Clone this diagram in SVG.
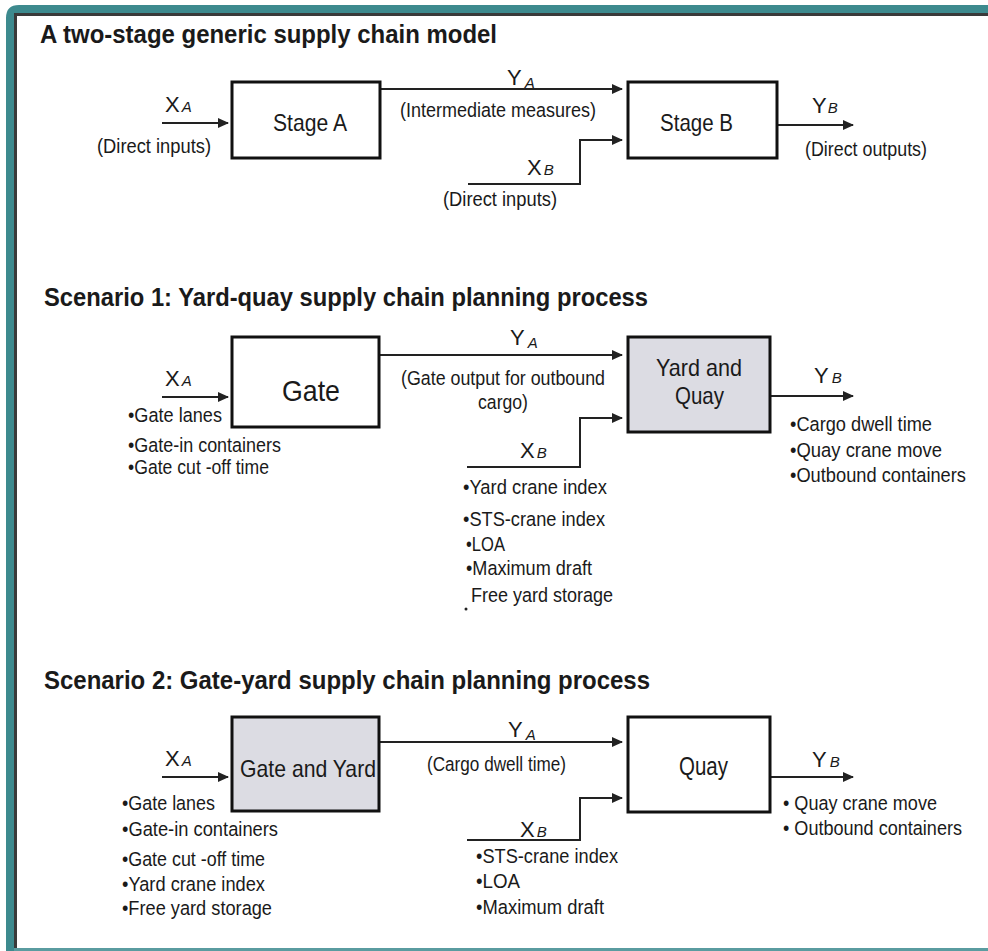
<svg xmlns="http://www.w3.org/2000/svg" width="988" height="951" viewBox="0 0 988 951">
<style>
text{font-family:"Liberation Sans Narrow","Liberation Sans",Arial,sans-serif;fill:#1a1a1a}
.title{font-weight:bold;font-size:25px}
.t{font-size:20.5px}
.nd{font-size:24px}
.v{font-size:22px}
.sub{font-size:15px;font-style:italic}
.box{fill:#fff;stroke:#111;stroke-width:3}
.gbox{fill:#dcdce3;stroke:#111;stroke-width:3}
.ln{fill:none;stroke:#222;stroke-width:2}
</style>
<defs>
<marker id="ah" markerUnits="userSpaceOnUse" markerWidth="11" markerHeight="10" refX="10" refY="5" orient="auto">
<path d="M0,0 L11,5 L0,10 z" fill="#222"/>
</marker>
</defs>
<rect width="988" height="951" fill="#fff"/>
<g id="frame">
<path d="M6,951 V18 Q6,5 19,5 H988 V13 H14 V951 z" fill="#3d8a8e"/>
<rect x="14" y="13" width="974" height="3" fill="#3a3a3a"/>
<rect x="14" y="13" width="3" height="938" fill="#3a3a3a"/>
<rect x="14" y="948" width="974" height="3" fill="#5a9ca0"/>
</g>
<g id="titles">
<text class="title" x="40" y="43" textLength="457" lengthAdjust="spacingAndGlyphs">A two-stage generic supply chain model</text>
<text class="title" x="44" y="306" textLength="604" lengthAdjust="spacingAndGlyphs">Scenario 1: Yard-quay supply chain planning process</text>
<text class="title" x="44" y="689" textLength="606" lengthAdjust="spacingAndGlyphs">Scenario 2: Gate-yard supply chain planning process</text>
</g>
<g id="connectors">
<line class="ln" x1="162" y1="123" x2="228" y2="123" marker-end="url(#ah)"/>
<line class="ln" x1="380" y1="89" x2="622" y2="89" marker-end="url(#ah)"/>
<polyline class="ln" points="468,184 580,184 580,140 622,140" marker-end="url(#ah)"/>
<line class="ln" x1="777" y1="125" x2="853" y2="125" marker-end="url(#ah)"/>
<line class="ln" x1="162" y1="397" x2="228" y2="397" marker-end="url(#ah)"/>
<line class="ln" x1="379" y1="355" x2="622" y2="355" marker-end="url(#ah)"/>
<polyline class="ln" points="467,467 580,467 580,418 622,418" marker-end="url(#ah)"/>
<line class="ln" x1="770" y1="396" x2="853" y2="396" marker-end="url(#ah)"/>
<line class="ln" x1="162" y1="777" x2="228" y2="777" marker-end="url(#ah)"/>
<line class="ln" x1="379" y1="742" x2="622" y2="742" marker-end="url(#ah)"/>
<polyline class="ln" points="467,840 580,840 580,798 622,798" marker-end="url(#ah)"/>
<line class="ln" x1="770" y1="777" x2="853" y2="777" marker-end="url(#ah)"/>
</g>
<g id="stageA">
<rect class="box" x="232" y="82" width="148" height="76"/>
<text class="nd" x="273" y="131" textLength="74" lengthAdjust="spacingAndGlyphs">Stage A</text>
</g>
<g id="stageB">
<rect class="box" x="628" y="82" width="149" height="76"/>
<text class="nd" x="660" y="131" textLength="73" lengthAdjust="spacingAndGlyphs">Stage B</text>
</g>
<g id="labels0">
<text class="v" x="165" y="112">X<tspan class="sub" dx="2">A</tspan></text>
<text class="t" x="97" y="153" textLength="114" lengthAdjust="spacingAndGlyphs">(Direct inputs)</text>
<text class="v" x="507" y="85">Y<tspan class="sub" dx="3" dy="3">A</tspan></text>
<text class="t" x="400" y="117" textLength="196" lengthAdjust="spacingAndGlyphs">(Intermediate measures)</text>
<text class="v" x="527" y="175">X<tspan class="sub" dx="2">B</tspan></text>
<text class="t" x="443" y="206" textLength="114" lengthAdjust="spacingAndGlyphs">(Direct inputs)</text>
<text class="v" x="812" y="113">Y<tspan class="sub" dx="1">B</tspan></text>
<text class="t" x="805" y="156" textLength="122" lengthAdjust="spacingAndGlyphs">(Direct outputs)</text>
</g>
<g id="gate">
<rect class="box" x="232" y="337" width="147" height="90"/>
<text x="282" y="401" font-size="30" textLength="58" lengthAdjust="spacingAndGlyphs">Gate</text>
</g>
<g id="yardQuay">
<rect class="gbox" x="628" y="337" width="142" height="95"/>
<text class="nd" x="656" y="376" textLength="86" lengthAdjust="spacingAndGlyphs">Yard and</text>
<text class="nd" x="675" y="404" textLength="49" lengthAdjust="spacingAndGlyphs">Quay</text>
</g>
<g id="labels1">
<text class="v" x="165" y="386">X<tspan class="sub" dx="2">A</tspan></text>
<text class="t" x="128" y="422" textLength="94" lengthAdjust="spacingAndGlyphs">•Gate lanes</text>
<text class="t" x="128" y="452" textLength="153" lengthAdjust="spacingAndGlyphs">•Gate-in containers</text>
<text class="t" x="128" y="474" textLength="141" lengthAdjust="spacingAndGlyphs">•Gate cut -off time</text>
<text class="v" x="510" y="345">Y<tspan class="sub" dx="3" dy="3">A</tspan></text>
<text class="t" x="401" y="385" textLength="204" lengthAdjust="spacingAndGlyphs">(Gate output for outbound</text>
<text class="t" x="478" y="409" textLength="50" lengthAdjust="spacingAndGlyphs">cargo)</text>
<text class="v" x="520" y="458">X<tspan class="sub" dx="2">B</tspan></text>
<text class="t" x="463" y="494" textLength="144" lengthAdjust="spacingAndGlyphs">•Yard crane index</text>
<text class="t" x="463" y="526" textLength="142" lengthAdjust="spacingAndGlyphs">•STS-crane index</text>
<text class="t" x="466" y="551" textLength="39" lengthAdjust="spacingAndGlyphs">•LOA</text>
<text class="t" x="466" y="575" textLength="126" lengthAdjust="spacingAndGlyphs">•Maximum draft</text>
<text class="t" x="471" y="602" textLength="142" lengthAdjust="spacingAndGlyphs">Free yard storage</text>
<circle cx="466" cy="609" r="1.5" fill="#222"/>
<text class="v" x="814" y="383">Y<tspan class="sub" dx="3">B</tspan></text>
<text class="t" x="790" y="431" textLength="142" lengthAdjust="spacingAndGlyphs">•Cargo dwell time</text>
<text class="t" x="790" y="457" textLength="152" lengthAdjust="spacingAndGlyphs">•Quay crane move</text>
<text class="t" x="790" y="482" textLength="176" lengthAdjust="spacingAndGlyphs">•Outbound containers</text>
</g>
<g id="gateYard">
<rect class="gbox" x="232" y="717" width="147" height="94"/>
<text class="nd" x="240" y="777" textLength="136" lengthAdjust="spacingAndGlyphs">Gate and Yard</text>
</g>
<g id="quay">
<rect class="box" x="628" y="717" width="142" height="95"/>
<text x="679" y="775" font-size="26" textLength="49" lengthAdjust="spacingAndGlyphs">Quay</text>
</g>
<g id="labels2">
<text class="v" x="165" y="766">X<tspan class="sub" dx="2">A</tspan></text>
<text class="t" x="122" y="810" textLength="93" lengthAdjust="spacingAndGlyphs">•Gate lanes</text>
<text class="t" x="122" y="836" textLength="156" lengthAdjust="spacingAndGlyphs">•Gate-in containers</text>
<text class="t" x="122" y="866" textLength="143" lengthAdjust="spacingAndGlyphs">•Gate cut -off time</text>
<text class="t" x="122" y="891" textLength="143" lengthAdjust="spacingAndGlyphs">•Yard crane index</text>
<text class="t" x="122" y="915" textLength="150" lengthAdjust="spacingAndGlyphs">•Free yard storage</text>
<text class="v" x="508" y="737">Y<tspan class="sub" dx="3" dy="3">A</tspan></text>
<text class="t" x="427" y="771" textLength="139" lengthAdjust="spacingAndGlyphs">(Cargo dwell time)</text>
<text class="v" x="520" y="837">X<tspan class="sub" dx="2">B</tspan></text>
<text class="t" x="476" y="863" textLength="142" lengthAdjust="spacingAndGlyphs">•STS-crane index</text>
<text class="t" x="476" y="888" textLength="44" lengthAdjust="spacingAndGlyphs">•LOA</text>
<text class="t" x="476" y="914" textLength="128" lengthAdjust="spacingAndGlyphs">•Maximum draft</text>
<text class="v" x="812" y="767">Y<tspan class="sub" dx="3">B</tspan></text>
<text class="t" x="783" y="810" textLength="154" lengthAdjust="spacingAndGlyphs">• Quay crane move</text>
<text class="t" x="783" y="835" textLength="179" lengthAdjust="spacingAndGlyphs">• Outbound containers</text>
</g>
</svg>
